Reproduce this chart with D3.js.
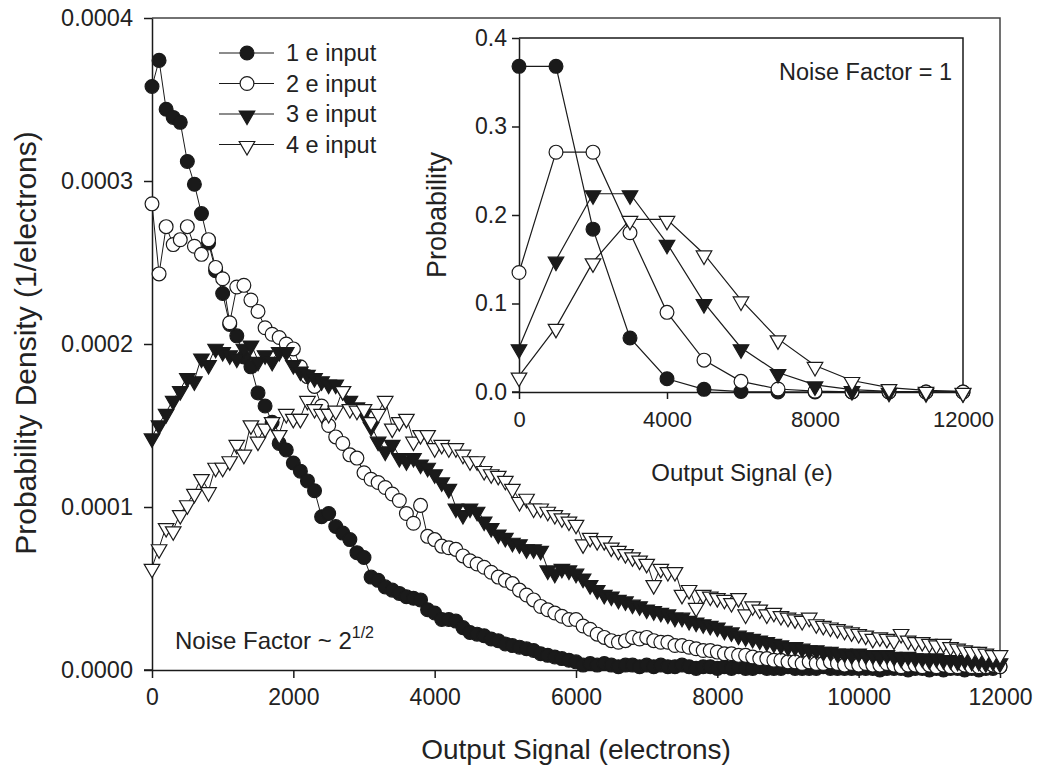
<!DOCTYPE html>
<html><head><meta charset="utf-8">
<script src="https://cdn.jsdelivr.net/npm/d3@7"></script>
<style>
body{margin:0;background:#fff;}
svg text{font-family:"Liberation Sans",Arial,Helvetica,sans-serif;fill:#222;}
</style></head>
<body><svg id="c" width="1045" height="773"></svg>
<script>
// ---- main plot data: probability density (units of 1e-4 per electron), x step = 100 e ----
const mainStep = 100;
const series1e = [3.58,3.74,3.44,3.39,3.36,3.12,2.98,2.80,2.62,2.45,2.31,2.12,2.05,1.92,1.86,1.70,1.62,1.52,1.39,1.35,
1.27,1.22,1.16,1.10,0.94,0.96,0.88,0.84,0.80,0.72,0.69,0.57,0.55,0.51,0.49,0.47,0.45,0.44,0.43,0.37,
0.35,0.31,0.31,0.30,0.26,0.23,0.22,0.21,0.19,0.18,0.16,0.15,0.14,0.13,0.12,0.10,0.09,0.08,0.07,0.06,
0.05,0.03,0.04,0.03,0.04,0.03,0.02,0.03,0.03,0.02,0.03,0.02,0.03,0.02,0.02,0.03,0.02,0.01,0.02,0.02,
0.01,0.02,0.01,0.02,0.01,0.01,0.02,0.01,0.01,0.01,0.02,0.01,0.01,0.01,0.01,0.02,0.01,0.01,0.01,0.01,
0.01,0.01,0.01,0.00,0.01,0.01,0.01,0.00,0.01,0.01,0.00,0.01,0.00,0.01,0.01,0.00,0.01,0.00,0.01,0.01,0.02];
const series2e = [2.86,2.43,2.72,2.61,2.64,2.72,2.60,2.55,2.64,2.47,2.40,2.13,2.35,2.36,2.27,2.20,2.10,2.06,2.04,2.00,
1.97,1.86,1.80,1.74,1.62,1.50,1.43,1.39,1.32,1.30,1.21,1.17,1.15,1.12,1.08,1.04,0.96,0.90,1.01,0.82,
0.80,0.76,0.75,0.74,0.70,0.67,0.65,0.63,0.60,0.57,0.55,0.53,0.49,0.46,0.43,0.39,0.37,0.35,0.33,0.31,
0.31,0.27,0.25,0.22,0.20,0.18,0.17,0.18,0.20,0.19,0.20,0.18,0.17,0.17,0.15,0.15,0.14,0.13,0.12,0.12,
0.11,0.10,0.10,0.09,0.09,0.08,0.07,0.07,0.06,0.06,0.05,0.05,0.04,0.05,0.04,0.04,0.05,0.04,0.03,0.04,
0.03,0.04,0.03,0.03,0.04,0.03,0.02,0.03,0.03,0.02,0.03,0.02,0.03,0.02,0.02,0.03,0.02,0.02,0.02,0.03,0.02];
const series3e = [1.43,1.51,1.58,1.66,1.72,1.80,1.78,1.92,1.88,1.98,1.96,1.94,1.92,1.98,2.00,1.90,1.94,1.90,1.96,1.96,
1.88,1.84,1.82,1.80,1.78,1.76,1.76,1.72,1.66,1.62,1.58,1.50,1.41,1.35,1.39,1.31,1.29,1.31,1.27,1.25,
1.21,1.16,1.12,1.00,0.96,1.00,0.98,0.92,0.88,0.84,0.82,0.79,0.78,0.75,0.75,0.74,0.62,0.60,0.63,0.62,
0.60,0.57,0.53,0.50,0.47,0.46,0.44,0.43,0.41,0.40,0.38,0.37,0.36,0.35,0.33,0.33,0.31,0.30,0.29,0.28,
0.27,0.25,0.24,0.22,0.21,0.20,0.19,0.18,0.17,0.16,0.15,0.15,0.14,0.13,0.13,0.12,0.12,0.11,0.11,0.10,
0.11,0.10,0.10,0.09,0.10,0.09,0.08,0.09,0.08,0.08,0.07,0.08,0.07,0.07,0.06,0.07,0.06,0.06,0.05,0.06,0.05];
const series4e = [0.63,0.75,0.88,0.86,0.96,1.02,1.09,1.18,1.10,1.25,1.25,1.29,1.39,1.33,1.51,1.41,1.49,1.53,1.45,1.58,
1.55,1.55,1.66,1.61,1.58,1.58,1.60,1.72,1.61,1.60,1.61,1.53,1.58,1.66,1.49,1.53,1.55,1.41,1.45,1.45,
1.37,1.39,1.37,1.37,1.33,1.29,1.29,1.23,1.21,1.20,1.17,1.12,1.04,1.06,1.00,1.00,0.98,0.96,0.94,0.92,
0.90,0.78,0.82,0.80,0.80,0.76,0.74,0.72,0.70,0.68,0.66,0.53,0.63,0.61,0.61,0.47,0.50,0.39,0.47,0.46,
0.45,0.44,0.42,0.45,0.35,0.40,0.38,0.35,0.36,0.34,0.33,0.32,0.31,0.33,0.29,0.28,0.27,0.26,0.25,0.24,
0.23,0.22,0.20,0.21,0.20,0.19,0.23,0.19,0.18,0.18,0.17,0.16,0.17,0.15,0.14,0.13,0.12,0.12,0.11,0.10,0.10];
const mainXTicks = [0,2000,4000,6000,8000,10000,12000];
const mainYTicks = [0,1,2,3,4];
const mainYTickLabels = ["0.0000","0.0001","0.0002","0.0003","0.0004"];

// ---- inset data: probability vs output signal (e) ----
const insetX = [0,1000,2000,3000,4000,5000,6000,7000,8000,9000,10000,11000,12000];
const inset1e = [0.368,0.368,0.184,0.061,0.015,0.003,0.0005,0.0001,0,0,0,0,0];
const inset2e = [0.135,0.271,0.271,0.180,0.090,0.036,0.012,0.0034,0.0009,0.0002,0,0,0];
const inset3e = [0.050,0.149,0.224,0.224,0.168,0.101,0.050,0.022,0.008,0.0027,0.0008,0.0002,0.0001];
const inset4e = [0.018,0.073,0.147,0.195,0.195,0.156,0.104,0.060,0.030,0.013,0.005,0.0019,0.0006];
const insetXTicks = [0,4000,8000,12000];
const insetYTicks = [0,0.1,0.2,0.3,0.4];
const legendLabels = ["1 e input","2 e input","3 e input","4 e input"];

const svg = d3.select("#c");
const ink = "#1a1a1a";
const FONT = '"Liberation Sans",Arial,sans-serif';

const styles = [
  {type:d3.symbolCircle, size:150, fill:ink, rot:0},
  {type:d3.symbolCircle, size:150, fill:"#fff", rot:0},
  {type:d3.symbolTriangle, size:105, fill:ink, rot:180},
  {type:d3.symbolTriangle, size:105, fill:"#fff", rot:180}
];
function drawMarker(g, st, x, y){
  g.append("path")
    .attr("d", d3.symbol().type(st.type).size(st.size)())
    .attr("transform", `translate(${x},${y}) rotate(${st.rot})${st.rot? " translate(0,-1.5)":""}`)
    .attr("fill", st.fill).attr("stroke", ink).attr("stroke-width", 1.2);
}
function styleAxis(g, fs){
  g.select(".domain").attr("stroke",ink).attr("stroke-width",1.5);
  g.selectAll(".tick line").attr("stroke",ink).attr("stroke-width",1.5);
  g.selectAll(".tick text").attr("font-size",fs).attr("fill","#222").style("font-family",FONT);
}

// ---------- main plot ----------
const mx = d3.scaleLinear().domain([0,12000]).range([152,1000]);
const my = d3.scaleLinear().domain([0,4]).range([670,18]);

const gMain = svg.append("g");
gMain.append("path").attr("d",`M${mx(0)},${my(4)}H${mx(12000)}V${my(0)}`).attr("fill","none").attr("stroke","#444").attr("stroke-width",1.5);

const xAxis = d3.axisBottom(mx).tickValues(mainXTicks).tickFormat(d3.format("d")).tickSize(8).tickSizeOuter(0).tickPadding(11);
const yAxis = d3.axisLeft(my).tickValues(mainYTicks).tickFormat((d,i)=>mainYTickLabels[i]).tickSize(8).tickSizeOuter(0).tickPadding(11);
const gx = gMain.append("g").attr("transform",`translate(0,${my(0)})`).call(xAxis);
const gy = gMain.append("g").attr("transform",`translate(${mx(0)},0)`).call(yAxis);
styleAxis(gx,23); styleAxis(gy,23.5);
gMain.append("line").attr("x1",mx(0)-8).attr("x2",mx(0)).attr("y1",my(0)).attr("y2",my(0)).attr("stroke",ink).attr("stroke-width",1.5);

const mainSeries = [series1e,series2e,series3e,series4e];
const line = d3.line().x(d=>mx(d.x)).y(d=>my(d.y));
mainSeries.forEach((s,k)=>{
  const pts = s.map((v,i)=>({x:i*mainStep,y:v}));
  const g = gMain.append("g");
  g.append("path").datum(pts).attr("d",line).attr("fill","none").attr("stroke",ink).attr("stroke-width",1);
  pts.forEach(p=>drawMarker(g, styles[k], mx(p.x), my(p.y)));
});

svg.append("text").attr("x",576).attr("y",759).attr("text-anchor","middle").attr("font-size",28).text("Output Signal (electrons)");
svg.append("text").attr("transform","translate(36,343) rotate(-90)").attr("text-anchor","middle").attr("font-size",30).text("Probability Density (1/electrons)");

const nf = svg.append("text").attr("x",175).attr("y",649).attr("font-size",24);
nf.append("tspan").text("Noise Factor ~ 2");
nf.append("tspan").attr("dy",-11).attr("font-size",16).text("1/2");

legendLabels.forEach((lab,k)=>{
  const y = 53 + k*30.5;
  svg.append("line").attr("x1",219).attr("x2",274).attr("y1",y).attr("y2",y).attr("stroke",ink).attr("stroke-width",1.2);
  drawMarker(svg, styles[k], 247, y);
  svg.append("text").attr("x",286).attr("y",y+8).attr("font-size",23.5).text(lab);
});

// ---------- inset ----------
const ix = d3.scaleLinear().domain([0,12000]).range([519,963]);
const iy = d3.scaleLinear().domain([0,0.4]).range([392,38]);
const gIn = svg.append("g");
gIn.append("path").attr("d",`M${ix(0)},${iy(0.4)}H${ix(12000)}V${iy(0)}`).attr("fill","none").attr("stroke",ink).attr("stroke-width",1.5);
const ixAxis = d3.axisBottom(ix).tickValues(insetXTicks).tickFormat(d3.format("d")).tickSize(7).tickSizeOuter(0).tickPadding(12);
const iyAxis = d3.axisLeft(iy).tickValues(insetYTicks).tickFormat(d3.format(".1f")).tickSize(7).tickSizeOuter(0).tickPadding(5);
const gix = gIn.append("g").attr("transform",`translate(0,${iy(0)})`).call(ixAxis);
const giy = gIn.append("g").attr("transform",`translate(${ix(0)},0)`).call(iyAxis);
styleAxis(gix,22); styleAxis(giy,23);
gIn.append("line").attr("x1",ix(0)-7).attr("x2",ix(0)).attr("y1",iy(0)).attr("y2",iy(0)).attr("stroke",ink).attr("stroke-width",1.5);

const insetSeries = [inset1e,inset2e,inset3e,inset4e];
const iline = d3.line().x(d=>ix(d.x)).y(d=>iy(d.y));
insetSeries.forEach((s,k)=>{
  const pts = s.map((v,i)=>({x:insetX[i],y:v}));
  const g = gIn.append("g");
  g.append("path").datum(pts).attr("d",iline).attr("fill","none").attr("stroke",ink).attr("stroke-width",1.2);
  pts.forEach(p=>drawMarker(g, styles[k], ix(p.x), iy(p.y)));
});
svg.append("text").attr("x",742).attr("y",481).attr("text-anchor","middle").attr("font-size",24).text("Output Signal (e)");
svg.append("text").attr("transform","translate(446,215) rotate(-90)").attr("text-anchor","middle").attr("font-size",27).text("Probability");
svg.append("text").attr("x",952).attr("y",80).attr("text-anchor","end").attr("font-size",23.5).text("Noise Factor = 1");
</script></body></html>
